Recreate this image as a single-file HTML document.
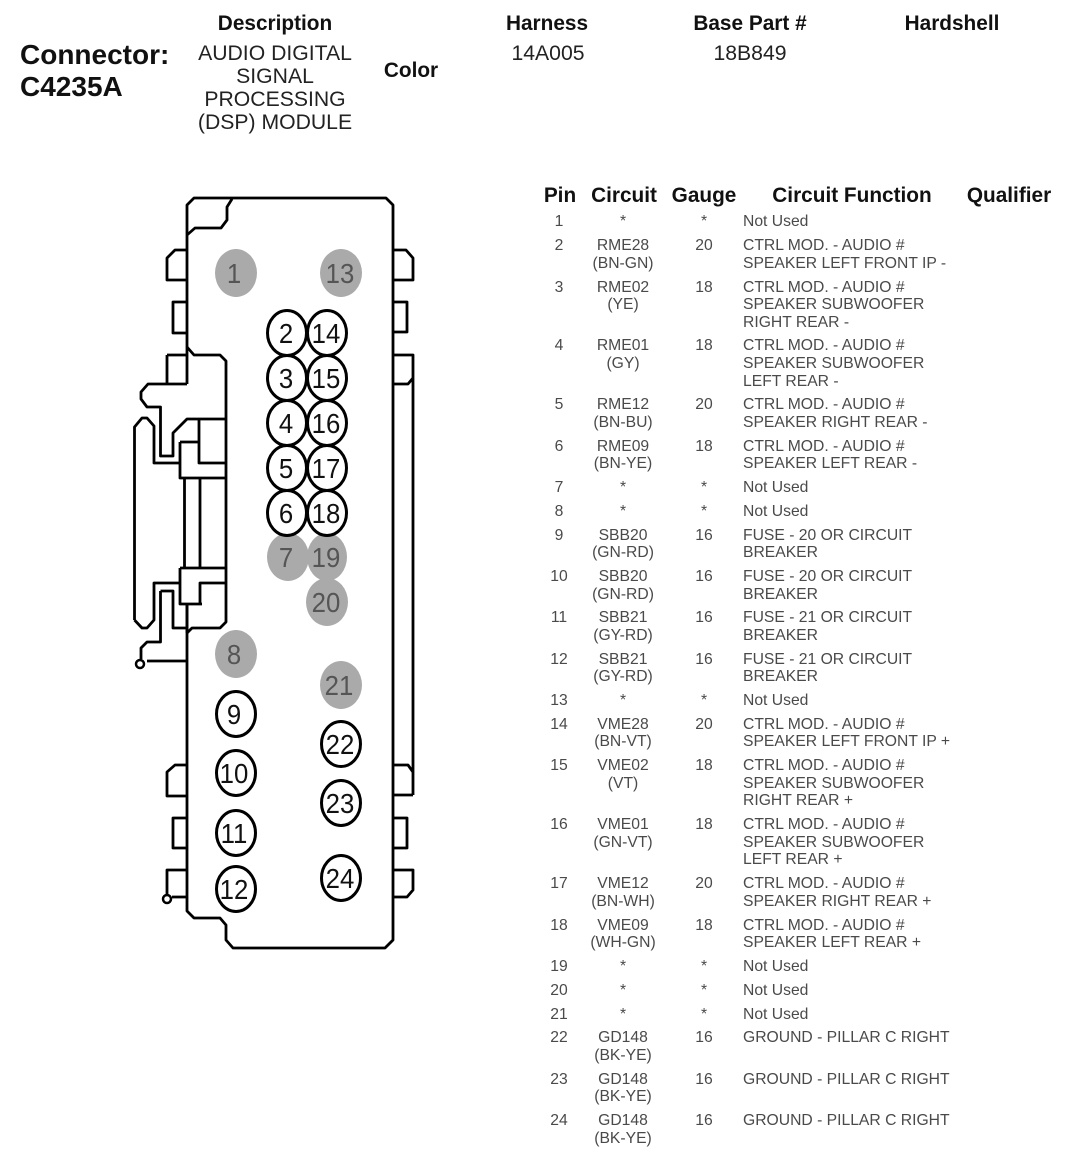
<!DOCTYPE html>
<html><head><meta charset="utf-8"><title>Connector C4235A</title>
<style>
html,body{margin:0;padding:0;background:#fff}
svg{display:block}
text{font-family:"Liberation Sans",sans-serif}
.h{font-size:20.8px;font-weight:bold;fill:#111;text-anchor:middle}
.d{font-size:21.2px;fill:#222;text-anchor:middle}
.c{font-size:28px;font-weight:bold;fill:#111}
.t text{font-size:15.7px;fill:#4a4a4a}
.m{text-anchor:middle}
.l path{fill:none;stroke:#000;stroke-width:2.8;stroke-linejoin:round}
.w ellipse{fill:#fff;stroke:#000;stroke-width:3}
.g ellipse{fill:#aaa}
.n text{font-size:28px;text-anchor:middle}
.nk text{fill:#111}
.ng text{fill:#555}
</style></head><body>
<svg width="1066" height="1166" viewBox="0 0 1066 1166" xmlns="http://www.w3.org/2000/svg">
<rect width="1066" height="1166" fill="#fff"/>
<text class="c" x="20" y="64">Connector:</text>
<text class="c" x="20" y="96">C4235A</text>
<text class="h" x="275" y="30">Description</text>
<text class="h" x="547" y="30">Harness</text>
<text class="h" x="750" y="30">Base Part #</text>
<text class="h" x="952" y="30">Hardshell</text>
<text class="h" x="411" y="77">Color</text>
<text class="d" x="275" y="60">AUDIO DIGITAL</text>
<text class="d" x="275" y="83">SIGNAL</text>
<text class="d" x="275" y="106">PROCESSING</text>
<text class="d" x="275" y="129">(DSP) MODULE</text>
<text class="d" x="548" y="60">14A005</text>
<text class="d" x="750" y="60">18B849</text>
<text class="h" x="560" y="202">Pin</text>
<text class="h" x="624" y="202">Circuit</text>
<text class="h" x="704" y="202">Gauge</text>
<text class="h" x="852" y="202">Circuit Function</text>
<text class="h" x="1009" y="202">Qualifier</text>

<g class="l">
<path d="M187 384V235L195 228H221L227 220V207L232 199M187 235V205L194 198H386L393 205V940L385 948H233L226 940V925L220 918H194L187 911V604"/>
<path d="M187 347L194 355H220L226 361V622L220 628H192L187 633"/>
<path d="M187 250H175L167 258V280H187M187 302H173V333H187"/>
<path d="M393 250H406L413 258V280H393M393 302H407V332H393"/>
<path d="M167 355H187M167 355V384M187 384H148L141 392V399L147 407H160.500V456H173V433L187 419H226"/>
<path d="M134.500 620V427L142 418H147L154 426V463H180M134.500 620L142 628H147L154 620V583H180"/>
<path d="M180 442H199M199 419V463H226M180 442V478H226M184.500 478V568M200 478V568M180 568H226M180 568V604H202M200 604V583H226"/>
<path d="M187 604V633M160.500 591H173V628H187M160.500 591V642H147L141 648V659M147 661H187"/>
<path d="M393 355H413V795M393 384H408L413 378M393 765H408L413 772M413 795H393"/>
<path d="M187 765H175L167 772V796H187M187 818H173V848H187M187 870H167V894M172 897H187"/>
<path d="M393 818H407V848H393M393 870H413V890L407 897H393"/>
<circle cx="140" cy="664" r="4" fill="none" stroke="#000" stroke-width="2.500"/>
<circle cx="167" cy="899" r="4" fill="none" stroke="#000" stroke-width="2.500"/>
</g>

<g class="g">
<ellipse cx="236" cy="273" rx="21" ry="24"/><ellipse cx="341" cy="273" rx="21" ry="24"/>
<ellipse cx="288" cy="557" rx="21" ry="24"/><ellipse cx="327" cy="602" rx="21" ry="24"/><ellipse cx="327" cy="557" rx="20" ry="24"/>
<ellipse cx="236" cy="654" rx="21" ry="24"/><ellipse cx="341" cy="685" rx="21" ry="24"/>
</g>
<g class="w">
<ellipse cx="287" cy="333" rx="19.500" ry="22.500"/><ellipse cx="327" cy="333" rx="19.500" ry="22.500"/>
<ellipse cx="287" cy="378" rx="19.500" ry="22.500"/><ellipse cx="327" cy="378" rx="19.500" ry="22.500"/>
<ellipse cx="287" cy="423" rx="19.500" ry="22.500"/><ellipse cx="327" cy="423" rx="19.500" ry="22.500"/>
<ellipse cx="287" cy="468" rx="19.500" ry="22.500"/><ellipse cx="327" cy="468" rx="19.500" ry="22.500"/>
<ellipse cx="287" cy="513" rx="19.500" ry="22.500"/><ellipse cx="327" cy="513" rx="19.500" ry="22.500"/>
<ellipse cx="236" cy="714" rx="19.500" ry="22.500"/><ellipse cx="236" cy="773" rx="19.500" ry="22.500"/>
<ellipse cx="236" cy="833" rx="19.500" ry="22.500"/><ellipse cx="236" cy="889" rx="19.500" ry="22.500"/>
<ellipse cx="341" cy="744" rx="19.500" ry="22.500"/><ellipse cx="341" cy="803" rx="19.500" ry="22.500"/>
<ellipse cx="341" cy="878" rx="19.500" ry="22.500"/>
</g>
<g class="n ng">
<text transform="translate(234 283) scale(.92 1)">1</text>
<text transform="translate(340 283) scale(.92 1)">13</text>
<text transform="translate(286 567) scale(.92 1)">7</text>
<text transform="translate(326 567) scale(.92 1)">19</text>
<text transform="translate(326 612) scale(.92 1)">20</text>
<text transform="translate(234 664) scale(.92 1)">8</text>
<text transform="translate(339 695) scale(.92 1)">21</text>
</g>
<g class="n nk">
<text transform="translate(286 343) scale(.92 1)">2</text>
<text transform="translate(326 343) scale(.92 1)">14</text>
<text transform="translate(286 388) scale(.92 1)">3</text>
<text transform="translate(326 388) scale(.92 1)">15</text>
<text transform="translate(286 433) scale(.92 1)">4</text>
<text transform="translate(326 433) scale(.92 1)">16</text>
<text transform="translate(286 478) scale(.92 1)">5</text>
<text transform="translate(326 478) scale(.92 1)">17</text>
<text transform="translate(286 523) scale(.92 1)">6</text>
<text transform="translate(326 523) scale(.92 1)">18</text>
<text transform="translate(234 724) scale(.92 1)">9</text>
<text transform="translate(234 783) scale(.92 1)">10</text>
<text transform="translate(234 843) scale(.92 1)">11</text>
<text transform="translate(234 899) scale(.92 1)">12</text>
<text transform="translate(340 754) scale(.92 1)">22</text>
<text transform="translate(340 813) scale(.92 1)">23</text>
<text transform="translate(340 888) scale(.92 1)">24</text>
</g>

<g class="t" transform="translate(0 -1)">
<text class="m" x="559" y="227">1</text><text class="m" x="623" y="227">*</text><text class="m" x="704" y="227">*</text><text x="743" y="227">Not Used</text>
<text class="m" x="559" y="251">2</text><text class="m" x="623" y="251">RME28</text><text class="m" x="623" y="269">(BN-GN)</text><text class="m" x="704" y="251">20</text><text x="743" y="251">CTRL MOD. - AUDIO #</text><text x="743" y="269">SPEAKER LEFT FRONT IP -</text>
<text class="m" x="559" y="293">3</text><text class="m" x="623" y="293">RME02</text><text class="m" x="623" y="310">(YE)</text><text class="m" x="704" y="293">18</text><text x="743" y="293">CTRL MOD. - AUDIO #</text><text x="743" y="310">SPEAKER SUBWOOFER</text><text x="743" y="328">RIGHT REAR -</text>
<text class="m" x="559" y="351">4</text><text class="m" x="623" y="351">RME01</text><text class="m" x="623" y="369">(GY)</text><text class="m" x="704" y="351">18</text><text x="743" y="351">CTRL MOD. - AUDIO #</text><text x="743" y="369">SPEAKER SUBWOOFER</text><text x="743" y="387">LEFT REAR -</text>
<text class="m" x="559" y="410">5</text><text class="m" x="623" y="410">RME12</text><text class="m" x="623" y="428">(BN-BU)</text><text class="m" x="704" y="410">20</text><text x="743" y="410">CTRL MOD. - AUDIO #</text><text x="743" y="428">SPEAKER RIGHT REAR -</text>
<text class="m" x="559" y="452">6</text><text class="m" x="623" y="452">RME09</text><text class="m" x="623" y="469">(BN-YE)</text><text class="m" x="704" y="452">18</text><text x="743" y="452">CTRL MOD. - AUDIO #</text><text x="743" y="469">SPEAKER LEFT REAR -</text>
<text class="m" x="559" y="493">7</text><text class="m" x="623" y="493">*</text><text class="m" x="704" y="493">*</text><text x="743" y="493">Not Used</text>
<text class="m" x="559" y="517">8</text><text class="m" x="623" y="517">*</text><text class="m" x="704" y="517">*</text><text x="743" y="517">Not Used</text>
<text class="m" x="559" y="541">9</text><text class="m" x="623" y="541">SBB20</text><text class="m" x="623" y="558">(GN-RD)</text><text class="m" x="704" y="541">16</text><text x="743" y="541">FUSE - 20 OR CIRCUIT</text><text x="743" y="558">BREAKER</text>
<text class="m" x="559" y="582">10</text><text class="m" x="623" y="582">SBB20</text><text class="m" x="623" y="600">(GN-RD)</text><text class="m" x="704" y="582">16</text><text x="743" y="582">FUSE - 20 OR CIRCUIT</text><text x="743" y="600">BREAKER</text>
<text class="m" x="559" y="623">11</text><text class="m" x="623" y="623">SBB21</text><text class="m" x="623" y="641">(GY-RD)</text><text class="m" x="704" y="623">16</text><text x="743" y="623">FUSE - 21 OR CIRCUIT</text><text x="743" y="641">BREAKER</text>
<text class="m" x="559" y="665">12</text><text class="m" x="623" y="665">SBB21</text><text class="m" x="623" y="682">(GY-RD)</text><text class="m" x="704" y="665">16</text><text x="743" y="665">FUSE - 21 OR CIRCUIT</text><text x="743" y="682">BREAKER</text>
<text class="m" x="559" y="706">13</text><text class="m" x="623" y="706">*</text><text class="m" x="704" y="706">*</text><text x="743" y="706">Not Used</text>
<text class="m" x="559" y="730">14</text><text class="m" x="623" y="730">VME28</text><text class="m" x="623" y="747">(BN-VT)</text><text class="m" x="704" y="730">20</text><text x="743" y="730">CTRL MOD. - AUDIO #</text><text x="743" y="747">SPEAKER LEFT FRONT IP +</text>
<text class="m" x="559" y="771">15</text><text class="m" x="623" y="771">VME02</text><text class="m" x="623" y="789">(VT)</text><text class="m" x="704" y="771">18</text><text x="743" y="771">CTRL MOD. - AUDIO #</text><text x="743" y="789">SPEAKER SUBWOOFER</text><text x="743" y="806">RIGHT REAR +</text>
<text class="m" x="559" y="830">16</text><text class="m" x="623" y="830">VME01</text><text class="m" x="623" y="848">(GN-VT)</text><text class="m" x="704" y="830">18</text><text x="743" y="830">CTRL MOD. - AUDIO #</text><text x="743" y="848">SPEAKER SUBWOOFER</text><text x="743" y="865">LEFT REAR +</text>
<text class="m" x="559" y="889">17</text><text class="m" x="623" y="889">VME12</text><text class="m" x="623" y="907">(BN-WH)</text><text class="m" x="704" y="889">20</text><text x="743" y="889">CTRL MOD. - AUDIO #</text><text x="743" y="907">SPEAKER RIGHT REAR +</text>
<text class="m" x="559" y="931">18</text><text class="m" x="623" y="931">VME09</text><text class="m" x="623" y="948">(WH-GN)</text><text class="m" x="704" y="931">18</text><text x="743" y="931">CTRL MOD. - AUDIO #</text><text x="743" y="948">SPEAKER LEFT REAR +</text>
<text class="m" x="559" y="972">19</text><text class="m" x="623" y="972">*</text><text class="m" x="704" y="972">*</text><text x="743" y="972">Not Used</text>
<text class="m" x="559" y="996">20</text><text class="m" x="623" y="996">*</text><text class="m" x="704" y="996">*</text><text x="743" y="996">Not Used</text>
<text class="m" x="559" y="1020">21</text><text class="m" x="623" y="1020">*</text><text class="m" x="704" y="1020">*</text><text x="743" y="1020">Not Used</text>
<text class="m" x="559" y="1043">22</text><text class="m" x="623" y="1043">GD148</text><text class="m" x="623" y="1061">(BK-YE)</text><text class="m" x="704" y="1043">16</text><text x="743" y="1043">GROUND - PILLAR C RIGHT</text>
<text class="m" x="559" y="1085">23</text><text class="m" x="623" y="1085">GD148</text><text class="m" x="623" y="1102">(BK-YE)</text><text class="m" x="704" y="1085">16</text><text x="743" y="1085">GROUND - PILLAR C RIGHT</text>
<text class="m" x="559" y="1126">24</text><text class="m" x="623" y="1126">GD148</text><text class="m" x="623" y="1144">(BK-YE)</text><text class="m" x="704" y="1126">16</text><text x="743" y="1126">GROUND - PILLAR C RIGHT</text>
</g>
</svg>
</body></html>
